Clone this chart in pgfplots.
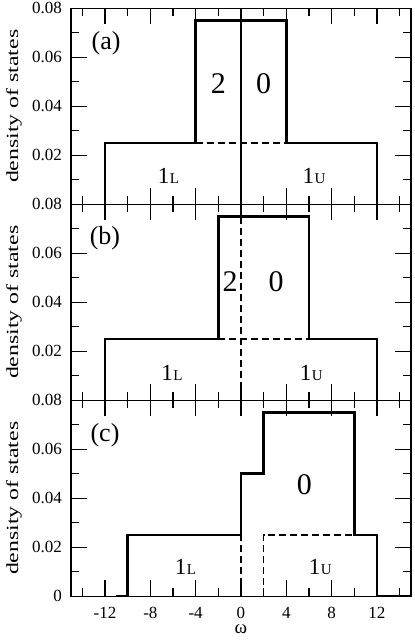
\documentclass[border=0pt]{standalone}
\usepackage{fontspec}
\setmainfont{Liberation Serif}
\usepackage{pgfplots}
\pgfplotsset{compat=1.18}
\newcommand{\fs}[1]{\fontsize{#1}{#1}\selectfont}
\tikzset{
  thk/.style={line width=2.7pt, black, line join=miter},
  dsh/.style={line width=1.2pt, black, dash pattern=on 7pt off 4pt},
  thn/.style={line width=1.2pt, black},
}
\pgfplotsset{
 dos/.style={
  scale only axis, width=340pt, height=196pt,
  xmin=-15,xmax=15,ymin=0,ymax=0.08,
  scaled y ticks=false, scaled x ticks=false,
  xtick={-12,-8,-4,0,4,8,12},
  minor xtick={-14,-10,-6,-2,2,6,10,14},
  ytick={0,0.02,0.04,0.06,0.08},
  minor ytick={0.01,0.03,0.05,0.07},
  tick align=inside,
  major tick length=16pt, minor tick length=8pt,
  tick style={black, line width=1.1pt},
  axis line style={line width=1.2pt},
  ticklabel style={font=\fs{17}},
  yticklabel style={inner sep=0pt, xshift=-9pt},
  xticklabel style={inner sep=0pt, yshift=-11pt},
  ylabel={\scalebox{1.4}[1]{density of states}},
  ylabel style={at={(axis description cs:-0.1676,0.5)}, anchor=center, font=\fs{17}, inner sep=0pt},
 }
}
\begin{document}
\begin{tikzpicture}
\path[use as bounding box] (-71pt,8.3pt) rectangle (344pt,-632.7pt);
% (a)
\begin{axis}[dos, name=a, at={(0pt,0pt)}, anchor=north west,
  xticklabels={,,,,,,},
  yticklabels={,0.02,0.04,0.06,0.08}]
\addplot[thk] coordinates {(-12,0) (-12,0.025) (-4,0.025) (-4,0.075) (4,0.075) (4,0.025) (12,0.025) (12,0)};
\addplot[thn] coordinates {(0,0) (0,0.075)};
\addplot[dsh] coordinates {(-4,0.025) (4,0.025)};
\node[font=\fs{26}] at (axis cs:-11.9,0.0657) {(a)};
\node[font=\fs{30}, anchor=base] at (axis cs:-2,0.0452) {2};
\node[font=\fs{30}, anchor=base] at (axis cs:2,0.0452) {0};
\node[anchor=base] at (axis cs:-6.4,0.0086) {\fs{23}1\kern0.5pt\fs{15}L};
\node[anchor=base] at (axis cs:6.45,0.0086) {\fs{23}1\kern0.5pt\fs{15}U};
\end{axis}
% (b)
\begin{axis}[dos, name=b, at={(a.south west)}, anchor=north west,
  xticklabels={,,,,,,},
  yticklabels={,0.02,0.04,0.06,0.08}]
\addplot[thk] coordinates {(-12,0) (-12,0.025) (-2,0.025) (-2,0.075) (6,0.075) (6,0.025) (12,0.025) (12,0)};
\addplot[dsh] coordinates {(0,0) (0,0.075)};
\addplot[dsh] coordinates {(-2,0.025) (6,0.025)};
\node[font=\fs{26}] at (axis cs:-12,0.0661) {(b)};
\node[font=\fs{30}, anchor=base] at (axis cs:-0.97,0.0445) {2};
\node[font=\fs{30}, anchor=base] at (axis cs:3.09,0.0445) {0};
\node[anchor=base] at (axis cs:-6.1,0.0082) {\fs{23}1\kern0.5pt\fs{15}L};
\node[anchor=base] at (axis cs:6.2,0.0082) {\fs{23}1\kern0.5pt\fs{15}U};
\end{axis}
% (c)
\begin{axis}[dos, name=c, at={(b.south west)}, anchor=north west,
  xticklabels={-12,-8,-4,0,4,8,12},
  yticklabels={0,0.02,0.04,0.06,0.08},
  xlabel={ω},
  xlabel style={at={(axis description cs:0.5,-0.17)}, anchor=center, font=\fs{19}, inner sep=0pt}]
\addplot[thk] coordinates {(-11,0) (-10,0) (-10,0.025) (0,0.025) (0,0.05) (2,0.05) (2,0.075) (10,0.075) (10,0.025) (12,0.025) (12,0) (15.5,0)};
\addplot[dsh] coordinates {(0,0) (0,0.025)};
\addplot[dsh] coordinates {(2,0) (2,0.025) (10,0.025)};
\node[font=\fs{26}] at (axis cs:-12,0.0658) {(c)};
\node[font=\fs{30}, anchor=base] at (axis cs:5.6,0.0414) {0};
\node[anchor=base] at (axis cs:-4.9,0.0089) {\fs{23}1\kern0.5pt\fs{15}L};
\node[anchor=base] at (axis cs:7.0,0.0089) {\fs{23}1\kern0.5pt\fs{15}U};
\end{axis}
\end{tikzpicture}
\end{document}
